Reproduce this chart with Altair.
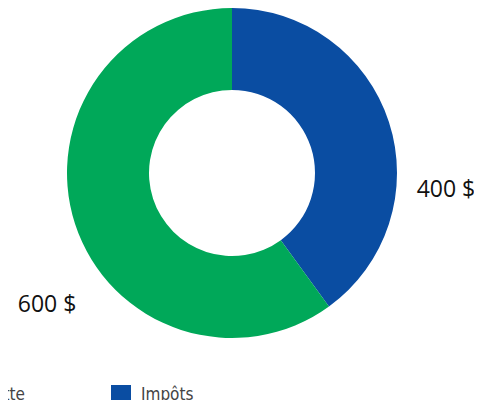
import altair as alt
import pandas as pd

categories = ["Impôts", "Paie nette"]
values = [400, 600]
labels = ["400 $", "600 $"]
legend_order = ["Paie nette", "Impôts"]
colors = ["#00A859", "#0A4DA2"]

df = pd.DataFrame({"cat": categories, "val": values, "label": labels})

arc = alt.Chart(df).mark_arc(innerRadius=83, outerRadius=165, stroke=None).encode(
    theta=alt.Theta("val:Q", stack=True),
    order=alt.Order("cat:N", sort="ascending"),
    color=alt.Color(
        "cat:N",
        scale=alt.Scale(domain=legend_order, range=colors),
        legend=alt.Legend(
            title=None,
            orient="none",
            direction="horizontal",
            legendX=-90,
            legendY=377,
            symbolType="square",
            symbolSize=400,
            symbolStrokeWidth=0,
            labelFontSize=17,
            labelColor="#444444",
            labelFont="'DejaVu Sans Condensed', 'Roboto', sans-serif",
            labelOffset=10,
            columnPadding=86,
        ),
    ),
)

def lab(name, dx, dy):
    return (
        alt.Chart(df)
        .transform_stack(stack="val", as_=["v0", "v1"], groupby=[], sort=[alt.SortField("cat", "ascending")])
        .transform_calculate(mid="(datum.v0 + datum.v1) / 2")
        .transform_filter(alt.datum.cat == name)
        .mark_text(
            radius=185, fontSize=23, font="Open Sans", color="#111111",
            dx=dx, dy=dy, align="center", baseline="middle",
        )
        .encode(theta=alt.Theta("mid:Q", stack=None), text="label:N")
    )

chart = alt.layer(arc, lab("Impôts", 38, 74), lab("Paie nette", -9, 75)).properties(
    width=448,
    height=330,
    autosize=alt.AutoSizeParams(type="none"),
    padding={"left": 0, "top": 0, "right": 18, "bottom": 62},
).configure_view(stroke=None)

chart.save("out.html", embed_options={"renderer": "svg", "actions": False})
